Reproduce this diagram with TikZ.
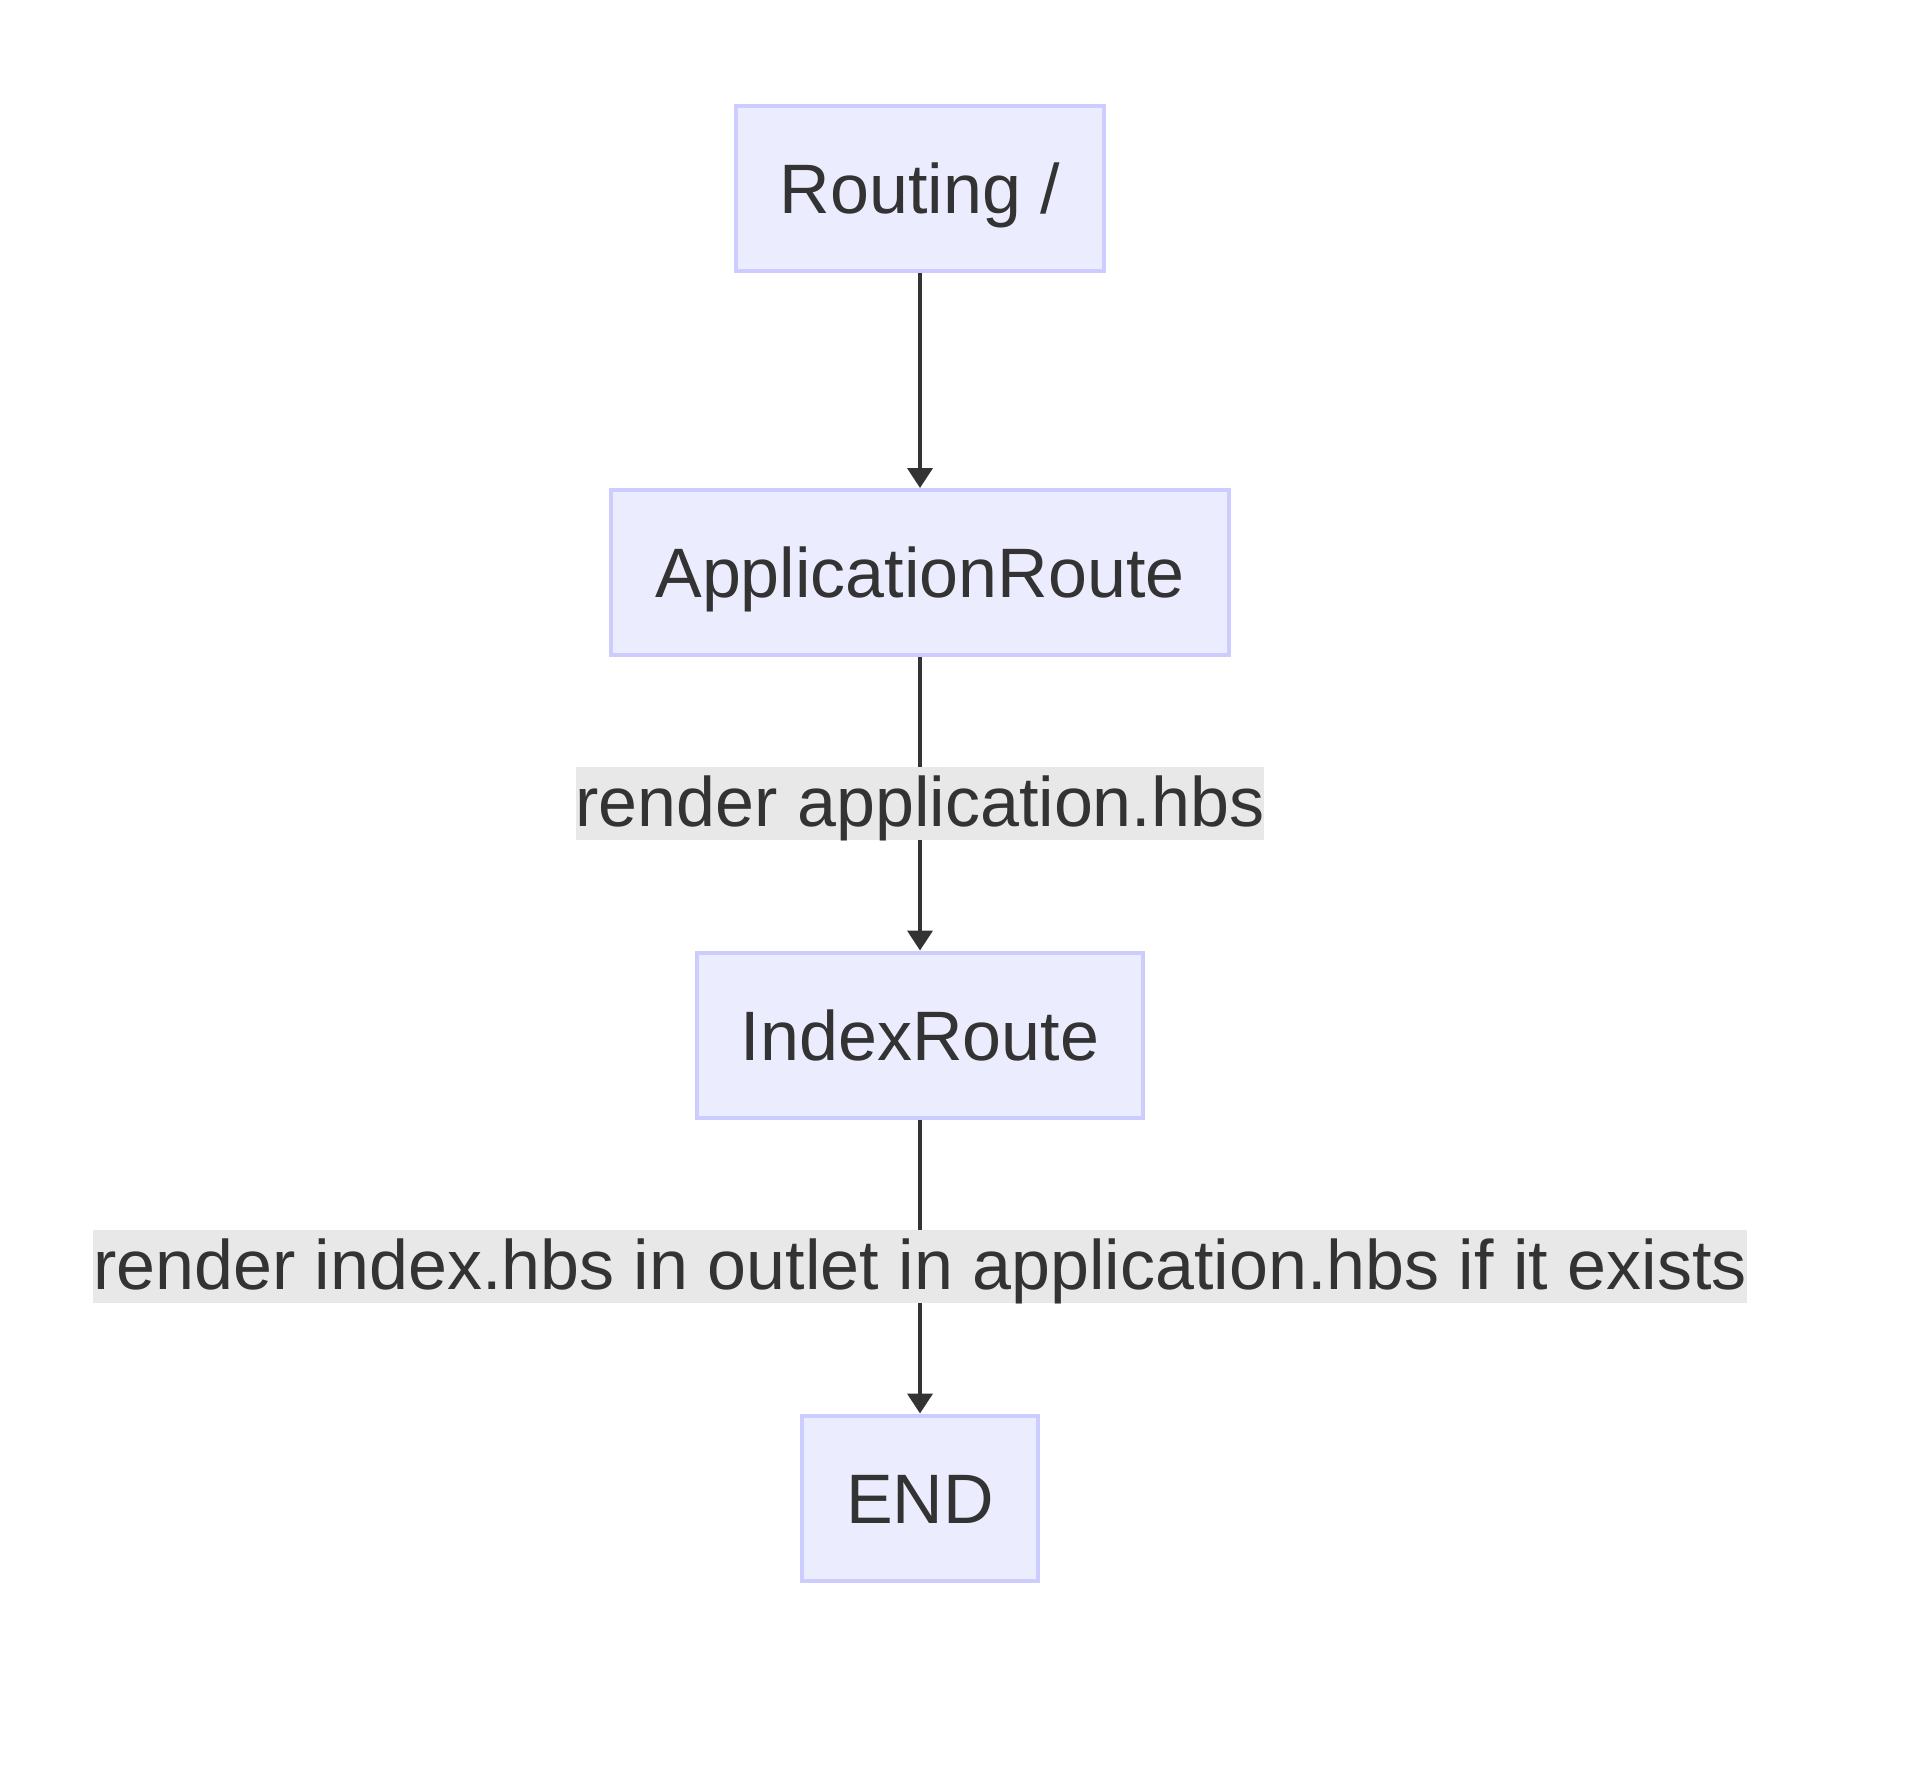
\documentclass[tikz,border=0pt]{standalone}
\usepackage{fontspec}
\setmainfont{Liberation Sans}
\definecolor{mmFill}{HTML}{ECECFF}
\definecolor{mmStroke}{HTML}{CCCCFF}
\definecolor{mmText}{HTML}{333333}
\definecolor{mmLabel}{HTML}{E8E8E8}
\usetikzlibrary{arrows.meta, positioning}

\begin{document}
\begin{tikzpicture}[x=1pt, y=-1pt,
  node distance=215pt,
  route/.style={draw=mmStroke, fill=mmFill, line width=4pt, text=mmText,
    font=\fontsize{70}{84}\selectfont, inner xsep=44pt, inner ysep=0pt,
    text height=50pt, text depth=0pt, minimum height=165pt},
  edgelabel/.style={fill=mmLabel, text=mmText, font=\fontsize{70}{84}\selectfont,
    inner sep=0pt, text height=59pt, text depth=14pt},
  flow/.style={line width=4pt, draw=mmText, -{Triangle[length=20pt, width=25pt]}}]
  \useasboundingbox (0,0) rectangle (1920,1775);
  \node[route] (routing) at (920,188.5) {Routing /};
  \node[route, below=of routing] (app) {ApplicationRoute};
  \node[route, below=293.5pt of app] (index) {IndexRoute};
  \node[route, below=294pt of index] (finish) {END};
  \draw[flow] (routing) -- (app);
  \draw[flow] (app) -- node[edgelabel] (lblapp) {render application.hbs} (index);
  \draw[flow] (index) -- node[edgelabel] (lblindex) {render index.hbs in outlet in application.hbs if it exists} (finish);
\end{tikzpicture}
\end{document}
